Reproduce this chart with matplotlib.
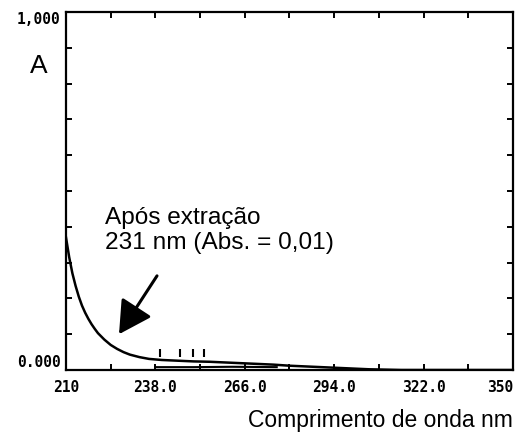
import numpy as np
import matplotlib
matplotlib.use("Agg")
import matplotlib.pyplot as plt

# absorbance spectrum
wavelength = [210, 211, 212, 213, 214, 215, 216, 217, 218, 219, 220, 222, 224,
              226, 228, 230, 233, 236, 240, 245, 250, 255, 260, 265, 270, 275,
              280, 285, 290, 295, 300, 305, 310, 315, 330, 350]
absorb = [0.37, 0.315, 0.27, 0.235, 0.205, 0.18, 0.16, 0.143, 0.128, 0.115,
          0.103, 0.085, 0.070, 0.059, 0.050, 0.043, 0.036, 0.031, 0.028, 0.026,
          0.024, 0.023, 0.021, 0.019, 0.017, 0.015, 0.012, 0.010, 0.008, 0.006,
          0.004, 0.002, 0.001, 0.0, 0.0, 0.0]

# second (lower) trace visible under the curve
base_nm = [238, 250, 262, 276]
base_abs = [0.008, 0.008, 0.009, 0.008]

# small marks above the curve
mark_nm = [239.4, 245.7, 249.8, 253.2]

xticks = np.arange(210, 351, 14)
xlabels = ["210", "", "238.0", "", "266.0", "", "294.0", "", "322.0", "", "350"]
yticks = np.round(np.arange(0, 1.01, 0.1), 1)
ylabels = ["0.000"] + [""] * 9 + ["1,000"]

fig = plt.figure(figsize=(5.21, 4.37), dpi=100)
ax = fig.add_axes([0.1267, 0.1533, 0.8579, 0.8192])

ax.plot(wavelength, absorb, color="black", lw=1.8)
ax.plot(base_nm, base_abs, color="black", lw=1.5)
ax.vlines(mark_nm, 0.036, 0.058, color="black", lw=1.5)

ax.set_xlim(210, 350)
ax.set_ylim(0, 1)

for s in ax.spines.values():
    s.set_linewidth(1.6)

ax.set_xticks(xticks)
ax.set_xticklabels(xlabels)
ax.set_yticks(yticks)
ax.set_yticklabels(ylabels)
ax.tick_params(direction="in", length=4, width=1.4, top=True, right=True,
               labelsize=10.5)
ax.tick_params(axis="x", pad=7)
ax.tick_params(axis="y", pad=4)
for lab in ax.get_xticklabels() + ax.get_yticklabels():
    lab.set_fontfamily("DejaVu Sans Mono")
    lab.set_fontweight("bold")
ylab = ax.get_yticklabels()
ylab[0].set_va("bottom")
ylab[-1].set_va("top")
ax.get_xticklabels()[-1].set_ha("right")

fig.text(0.075, 0.849, "A", fontsize=19, family="Liberation Sans",
         ha="center", va="center")
fig.text(0.985, 0.022, "Comprimento de onda nm", fontsize=16.5,
         family="Liberation Sans", ha="right", va="baseline")

ax.text(222.2, 0.325, "Após extração\n231 nm (Abs. = 0,01)", fontsize=17.6,
        family="Liberation Sans", ha="left", va="bottom", linespacing=1.15)

ax.annotate("", xy=(226.6, 0.10), xytext=(238.5, 0.263),
            arrowprops=dict(arrowstyle="-|>,head_length=1.0,head_width=0.55",
                            color="black", lw=2.2, mutation_scale=20,
                            shrinkA=0, shrinkB=0))

fig.savefig("out.png", dpi=100)
